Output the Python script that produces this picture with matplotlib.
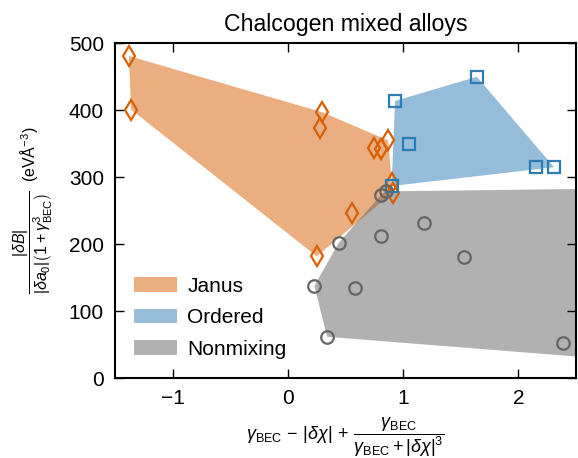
import numpy as np
import matplotlib
matplotlib.use("Agg")
import matplotlib.pyplot as plt
from matplotlib.patches import Patch

plt.rcParams['font.family'] = ['Liberation Sans', 'DejaVu Sans']
plt.rcParams['mathtext.fontset'] = 'custom'
plt.rcParams['mathtext.rm'] = 'Liberation Sans'
plt.rcParams['mathtext.it'] = 'Liberation Sans:italic'
plt.rcParams['mathtext.bf'] = 'Liberation Sans:bold'

# data
janus_x = [-1.38, -1.36, 0.30, 0.28, 0.75, 0.81, 0.87, 0.90, 0.91, 0.56, 0.25]
janus_y = [481, 401, 397, 374, 343, 342, 355, 292, 277, 247, 182]

ordered_x = [0.93, 1.64, 1.05, 2.15, 2.31, 0.90]
ordered_y = [414, 450, 350, 315, 315, 287]

# last two points lie beyond the right edge of the plot
nonmix_x = [0.81, 0.85, 0.44, 0.81, 1.18, 1.53, 0.23, 0.58, 0.34, 2.39, 3.2, 3.2]
nonmix_y = [274, 279, 202, 212, 232, 181, 138, 135, 62, 52, 284, 23]

groups = [
    ("Janus", janus_x, janus_y, "d", "#d95f02"),
    ("Ordered", ordered_x, ordered_y, "s", "#2d7db5"),
    ("Nonmixing", nonmix_x, nonmix_y, "o", "#656565"),
]


def convex_hull(xs, ys):
    # monotone chain
    pts = sorted(set(zip(xs, ys)))

    def cross(o, a, b):
        return (a[0] - o[0]) * (b[1] - o[1]) - (a[1] - o[1]) * (b[0] - o[0])

    lower, upper = [], []
    for p in pts:
        while len(lower) >= 2 and cross(lower[-2], lower[-1], p) <= 0:
            lower.pop()
        lower.append(p)
    for p in reversed(pts):
        while len(upper) >= 2 and cross(upper[-2], upper[-1], p) <= 0:
            upper.pop()
        upper.append(p)
    hull = np.array(lower[:-1] + upper[:-1])
    return hull[:, 0], hull[:, 1]


fig = plt.figure(figsize=(5.78, 4.58), dpi=100)
ax = fig.add_axes([0.199, 0.174, 0.7975, 0.7315])

handles = []
for name, xs, ys, mk, col in groups:
    hx, hy = convex_hull(xs, ys)
    ax.fill(hx, hy, color=col, alpha=0.5, lw=0, zorder=1)
    handles.append(Patch(facecolor=col, alpha=0.5, edgecolor='none', label=name))

for name, xs, ys, mk, col in groups:
    ms = 10.5 if mk == "d" else 9
    ax.plot(xs, ys, ls='none', marker=mk, ms=ms, mfc='none', mec=col, mew=1.6, zorder=3)

ax.set_xlim(-1.5, 2.5)
ax.set_ylim(0, 500)
ax.set_xticks([-1, 0, 1, 2])
ax.set_yticks([0, 100, 200, 300, 400, 500])
ax.tick_params(direction='in', top=True, right=True, length=6.5, width=1.0,
               labelsize=15, pad=8)
for s in ax.spines.values():
    s.set_linewidth(1.5)

ax.set_title("Chalcogen mixed alloys", fontsize=16.7, pad=9)
ax.set_xlabel(r"$\gamma_{\mathrm{BEC}}\, - \,|\delta\chi|\, + \,\dfrac{\gamma_{\mathrm{BEC}}}{\gamma_{\mathrm{BEC}}+|\delta\chi|^3}$",
              fontsize=13, labelpad=5)
ax.set_ylabel(r"$\dfrac{|\delta B|}{|\delta a_0|\left(1+\gamma_{\mathrm{BEC}}^3\right)}$  (eVÅ$^{-3}$)",
              fontsize=11.5, labelpad=10)

ax.legend(handles=handles, loc='lower left', bbox_to_anchor=(0.041, 0.058),
          frameon=False, fontsize=15, borderpad=0, borderaxespad=0,
          handlelength=2.07, handleheight=0.7, handletextpad=0.5, labelspacing=0.6)

fig.savefig("out.png", dpi=100)
